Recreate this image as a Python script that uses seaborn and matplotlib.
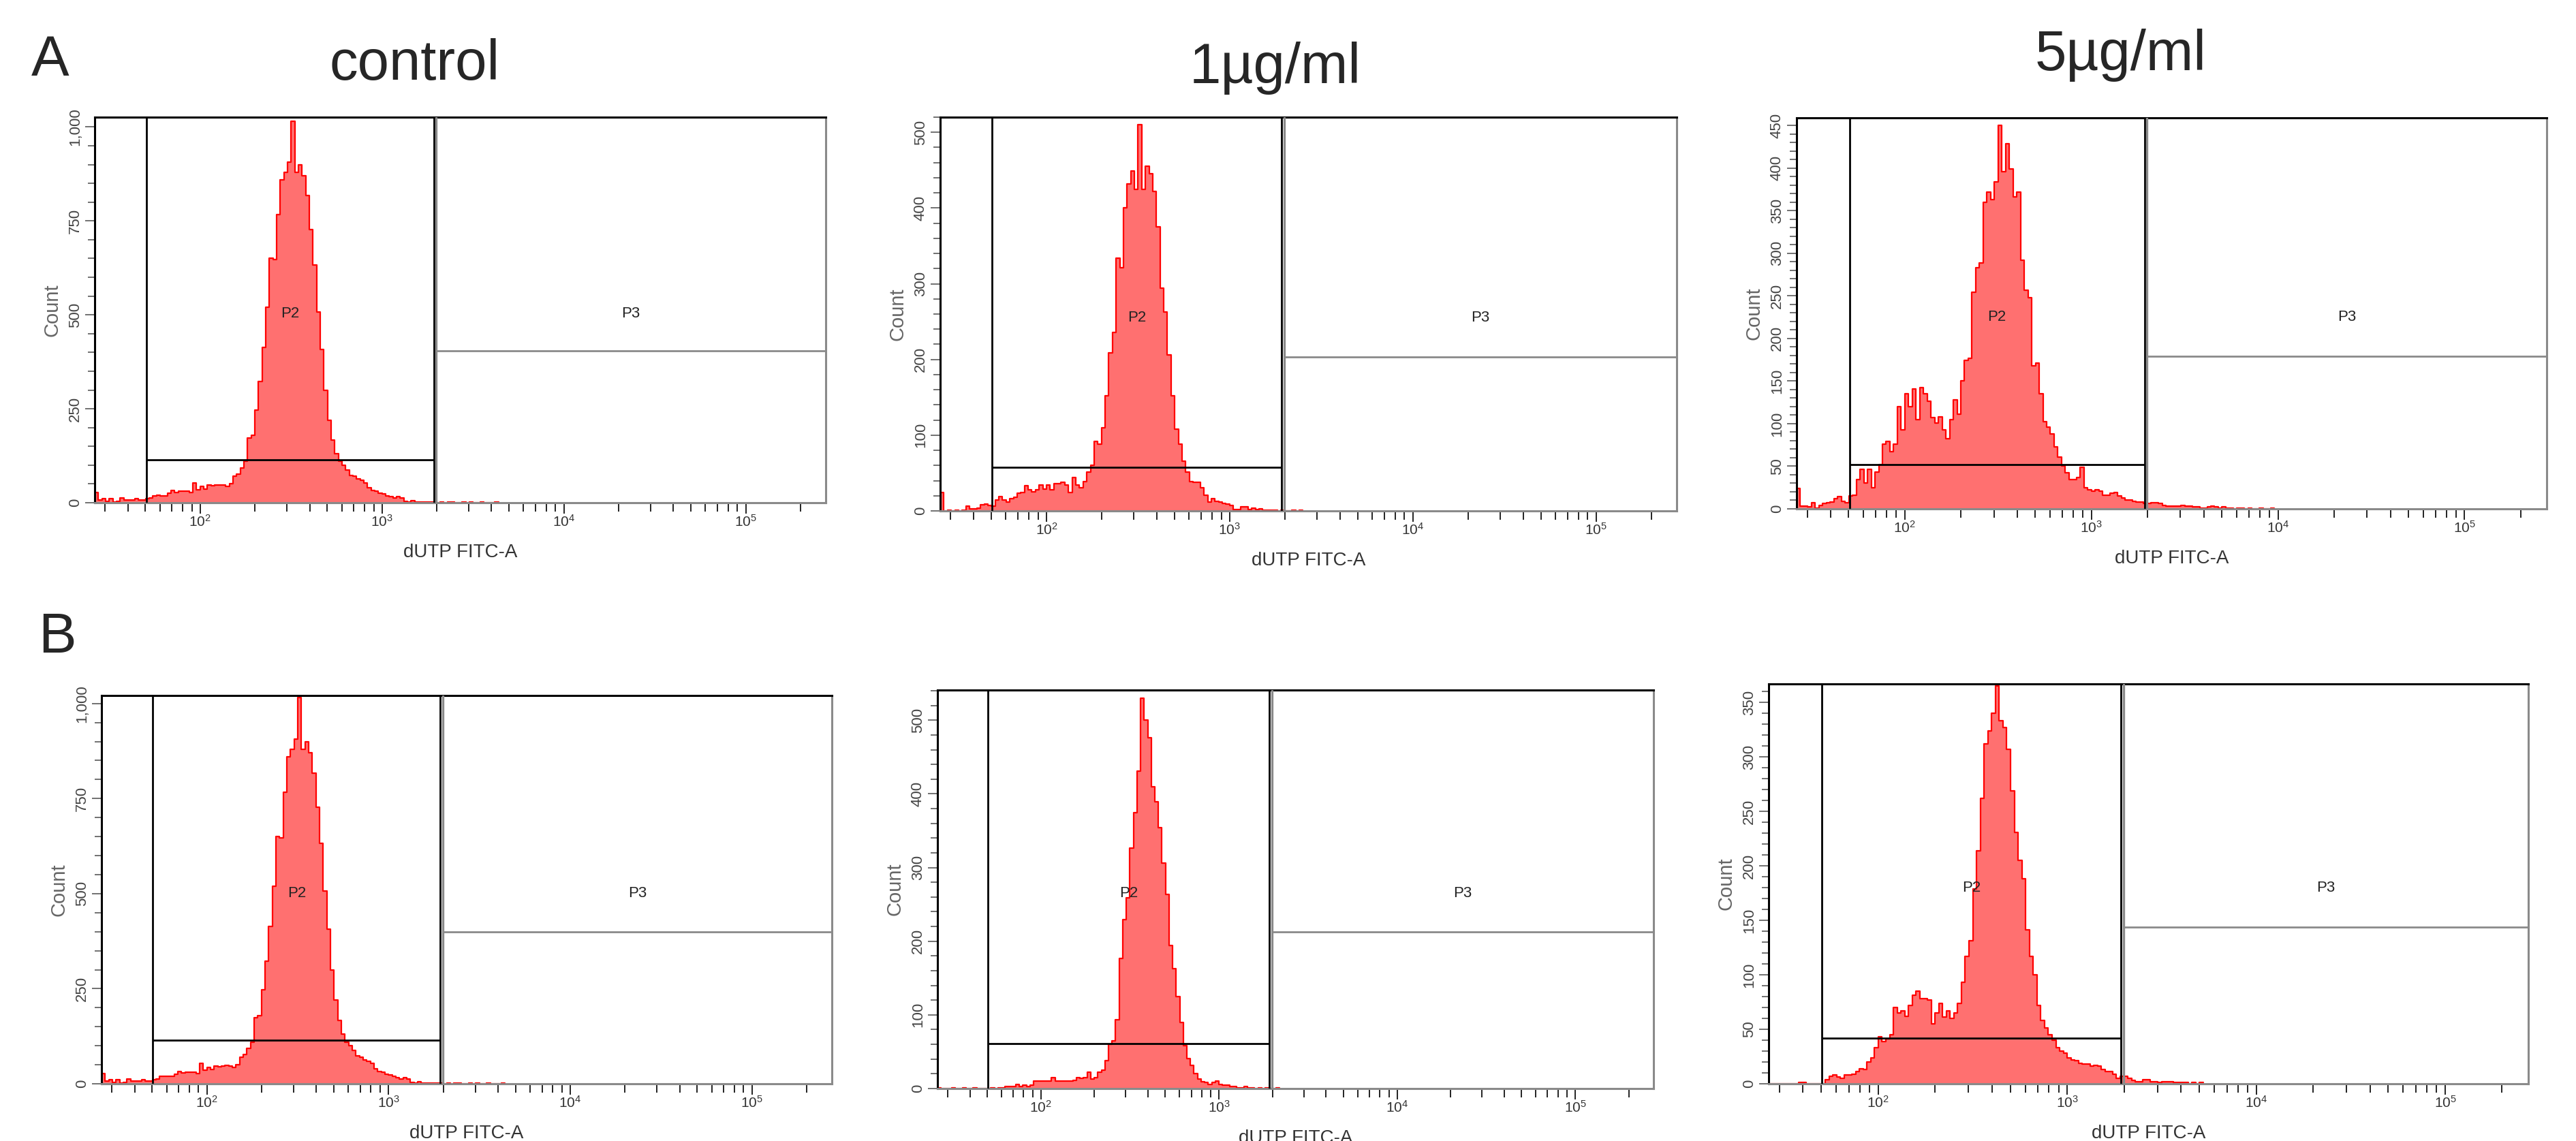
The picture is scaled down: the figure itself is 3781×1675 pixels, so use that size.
import numpy as np
import matplotlib.pyplot as plt
import matplotlib.ticker as mticker
import matplotlib.transforms as mtransforms
import seaborn as sns

sns.set_style("ticks")
plt.rcParams['font.family'] = ['Liberation Sans', 'DejaVu Sans']
plt.rcParams['mathtext.default'] = 'regular'

# histogram channels on log10(dUTP FITC-A): first bin starts at 10^1.42, bins are 0.02 decade wide
LOG_START = 1.42
BIN_W = 0.02

# counts per channel
control = [27, 7, 10, 3, 10, 1, 3, 12, 7, 7,
           7, 11, 8, 7, 10, 13, 19, 20, 19, 19,
           25, 33, 28, 31, 31, 30, 27, 53, 35, 43,
           37, 47, 45, 47, 48, 47, 43, 50, 70, 77,
           93, 110, 173, 180, 247, 323, 413, 520, 650, 647,
           767, 860, 880, 907, 1015, 880, 900, 870, 817, 727,
           633, 507, 407, 300, 220, 167, 130, 110, 100, 87,
           73, 70, 63, 59, 53, 40, 33, 30, 25, 23,
           19, 17, 13, 17, 13, 3, 2, 5, 2, 1,
           1, 1, 1, 1, 0, 1, 0, 1, 1, 0,
           0, 1, 0, 1, 0, 0, 1, 0, 0, 0, 1]

dose1_a = [24, 0, 1, 0, 1, 0, 1, 6, 3, 3,
           4, 8, 9, 7, 6, 14, 19, 14, 12, 16,
           18, 23, 24, 33, 28, 25, 28, 34, 29, 34,
           28, 36, 36, 38, 34, 24, 44, 34, 31, 39,
           51, 60, 92, 88, 110, 152, 209, 236, 334, 321,
           400, 432, 449, 425, 510, 425, 455, 445, 422, 375,
           294, 263, 206, 152, 108, 88, 66, 51, 39, 38,
           38, 31, 21, 12, 16, 13, 12, 10, 9, 7,
           2, 2, 5, 5, 2, 4, 2, 3, 1, 1,
           1, 1, 0, 1, 0, 0, 1, 0, 1]

dose5_a = [24, 3, 3, 2, 7, 1, 4, 6, 7, 8,
           12, 14, 9, 7, 15, 16, 34, 46, 30, 46,
           25, 43, 52, 76, 79, 67, 76, 120, 93, 135,
           120, 141, 105, 142, 135, 126, 107, 101, 108, 93,
           82, 105, 128, 111, 150, 174, 177, 254, 283, 289,
           360, 372, 363, 384, 450, 396, 429, 399, 366, 372,
           292, 257, 248, 168, 171, 135, 102, 96, 88, 73,
           61, 50, 42, 34, 34, 37, 49, 25, 22, 21,
           22, 21, 16, 16, 18, 19, 15, 13, 10, 10,
           9, 8, 8, 6, 6, 7, 7, 6, 4, 3,
           3, 3, 3, 4, 3, 3, 2, 2, 1, 1,
           2, 3, 2, 1, 2, 1, 1, 0, 1, 1,
           0, 1, 0, 0, 1, 0, 0, 1]

dose1_b = [1, 0, 0, 0, 1, 0, 0, 1, 0, 0,
           1, 0, 0, 0, 0, 1, 0, 1, 1, 3,
           3, 3, 6, 3, 5, 3, 5, 10, 10, 10,
           10, 10, 15, 10, 10, 10, 10, 10, 11, 15,
           14, 15, 22, 13, 15, 22, 25, 38, 60, 65,
           93, 177, 229, 259, 326, 375, 431, 530, 500, 476,
           410, 389, 354, 306, 264, 194, 163, 125, 90, 58,
           41, 31, 20, 13, 9, 8, 6, 8, 10, 6,
           5, 5, 3, 3, 1, 1, 3, 1, 1, 0,
           1, 0, 1, 0, 0, 1]

dose5_b = [0, 0, 0, 0, 0, 0, 0, 0, 1, 1,
           0, 0, 0, 0, 0, 4, 7, 8, 6, 5,
           8, 8, 9, 11, 14, 13, 20, 24, 33, 43,
           39, 41, 45, 70, 65, 67, 62, 72, 81, 85,
           78, 78, 77, 55, 65, 74, 61, 67, 60, 65,
           74, 93, 117, 131, 179, 214, 262, 312, 324, 340,
           365, 333, 327, 307, 269, 231, 205, 188, 141, 117,
           100, 72, 58, 51, 45, 40, 33, 30, 28, 24,
           22, 21, 19, 18, 18, 16, 17, 16, 13, 11,
           11, 9, 5, 7, 7, 5, 3, 2, 2, 4,
           4, 2, 2, 1, 2, 2, 2, 1, 1, 1,
           1, 0, 1, 0, 1]

titles = ['control', '1µg/ml', '5µg/ml']
row_labels = ['A', 'B']

# gate limits (FITC-A) and x range
P2_RANGE = (10 ** 1.703, 10 ** 3.284)
P3_START = 10 ** 3.298
XLIM = (10 ** 1.42, 10 ** 5.44)

W, H = 3781, 1675
FILL = '#FF7070'
EDGE = '#FF0000'
GRAY = '#8a8a8a'

# box = left, top, right, bottom in pixels
panels = [
    dict(counts=control, box=(139, 172, 1212, 738), ymax=1026, step=250, minor=50, p2=114, p3=404),
    dict(counts=dose1_a, box=(1380, 172, 2461, 750), ymax=520, step=100, minor=20, p2=58, p3=203),
    dict(counts=dose5_a, box=(2637, 173, 3738, 747), ymax=459, step=50, minor=10, p2=52, p3=179),
    dict(counts=control, box=(149, 1021, 1221, 1591), ymax=1021, step=250, minor=50, p2=115, p3=400),
    dict(counts=dose1_b, box=(1376, 1013, 2427, 1598), ymax=541, step=100, minor=20, p2=61, p3=213),
    dict(counts=dose5_b, box=(2596, 1004, 3711, 1591), ymax=367, step=50, minor=10, p2=42, p3=144),
]

fig = plt.figure(figsize=(W / 100, H / 100), dpi=100)

for p in panels:
    l, t, r, b = p['box']
    ax = fig.add_axes([l / W, 1 - b / H, (r - l) / W, (b - t) / H])

    counts = np.asarray(p['counts'], dtype=float)
    edges = LOG_START + BIN_W * np.arange(len(counts) + 1)
    centers = 10 ** ((edges[:-1] + edges[1:]) / 2)

    sns.histplot(x=centers, weights=counts, bins=edges.tolist(), log_scale=True,
                 element='step', fill=True, facecolor=FILL, edgecolor='none',
                 linewidth=0, ax=ax)
    sns.histplot(x=centers, weights=counts, bins=edges.tolist(), log_scale=True,
                 element='step', fill=False, color=EDGE, linewidth=1.6, ax=ax)

    ymax = p['ymax']
    ax.set_xlim(XLIM)
    ax.set_ylim(0, ymax)

    # gates
    ax.axvline(P2_RANGE[0], color='black', lw=2, zorder=3)
    ax.axvline(P2_RANGE[1], color='black', lw=2, zorder=3)
    ax.hlines(p['p2'], P2_RANGE[0], P2_RANGE[1], color='black', lw=2, zorder=3)
    ax.axvline(P3_START, color=GRAY, lw=2.4, zorder=3)
    ax.hlines(p['p3'], P3_START, XLIM[1], color=GRAY, lw=2, zorder=3)

    trans = mtransforms.blended_transform_factory(ax.transData, ax.transAxes)
    ax.text(np.sqrt(P2_RANGE[0] * P2_RANGE[1]), 0.49, 'P2', transform=trans,
            ha='center', va='center', fontsize=16, color='#222222', zorder=4)
    ax.text(np.sqrt(P3_START * XLIM[1]), 0.49, 'P3', transform=trans,
            ha='center', va='center', fontsize=16, color='#222222', zorder=4)

    # frame
    for side in ['top', 'left']:
        ax.spines[side].set_color('black')
        ax.spines[side].set_linewidth(2.2)
    for side in ['right', 'bottom']:
        ax.spines[side].set_color(GRAY)
        ax.spines[side].set_linewidth(2.2)

    # axes
    yt = np.arange(0, ymax + 1, p['step'])
    ax.set_yticks(yt, [f'{v:,}' for v in yt])
    ax.yaxis.set_minor_locator(mticker.MultipleLocator(p['minor']))
    ax.tick_params(axis='y', which='both', direction='out', width=1.3,
                   color='#666666', labelsize=16, labelcolor='#444444', pad=3,
                   labelrotation=90, left=True)
    ax.tick_params(axis='y', which='major', length=10)
    ax.tick_params(axis='y', which='minor', length=7)
    for lbl in ax.get_yticklabels():
        lbl.set_va('center')
    ax.tick_params(axis='x', which='both', direction='out', width=1.4,
                   color='#222222', labelsize=15, labelcolor='#333333', pad=1, bottom=True)
    ax.tick_params(axis='x', which='major', length=11.5)
    ax.tick_params(axis='x', which='minor', length=9)
    ax.set_xlabel('dUTP FITC-A', fontsize=20, color='#333333', labelpad=15)
    ax.set_ylabel('Count', fontsize=21, color='#666666', labelpad=7)

# titles and row labels
fig.text(609 / W, 1 - 117 / H, titles[0], fontsize=60, ha='center', va='baseline')
fig.text(1872 / W, 1 - 122 / H, titles[1], fontsize=60, ha='center', va='baseline')
fig.text(3113 / W, 1 - 103 / H, titles[2], fontsize=60, ha='center', va='baseline')
fig.text(46 / W, 1 - 111 / H, row_labels[0], fontsize=60, ha='left', va='baseline')
fig.text(56 / W, 1 - 958 / H, row_labels[1], fontsize=60, ha='left', va='baseline')

fig.savefig('out.png', dpi=100, facecolor='white')
